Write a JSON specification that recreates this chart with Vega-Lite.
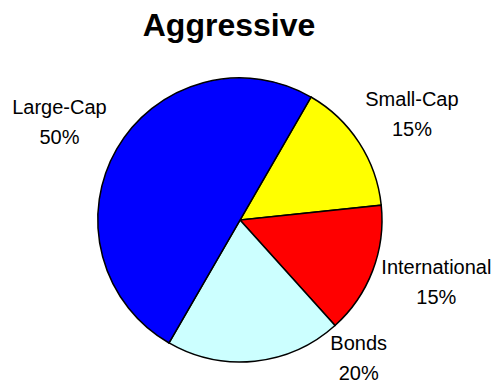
{
  "$schema": "https://vega.github.io/schema/vega-lite/v6.json",
  "width": 480,
  "height": 336,
  "autosize": "none",
  "padding": {"left": 0, "top": 52, "right": 18, "bottom": 0},
  "background": "white",
  "title": {"text": "Aggressive", "font": "Liberation Sans", "fontSize": 32, "fontWeight": "bold", "color": "black", "dx": -11, "offset": 9},
  "config": {"view": {"stroke": null}},
  "data": {"values": [
    {"asset": "Small-Cap", "share": 15, "k": 1, "label": "Small-Cap\n15%"},
    {"asset": "International", "share": 15, "k": 2, "label": "International\n15%"},
    {"asset": "Bonds", "share": 20, "k": 3, "label": "Bonds\n20%"},
    {"asset": "Large-Cap", "share": 50, "k": 4, "label": "Large-Cap\n50%"}
  ]},
  "encoding": {
    "theta": {"field": "share", "type": "quantitative", "stack": true, "scale": {"range": [0.5236, 6.8068]}},
    "order": {"field": "k", "type": "quantitative"}
  },
  "layer": [
    {
      "mark": {"type": "arc", "outerRadius": 142, "stroke": "black", "strokeWidth": 1.5},
      "encoding": {
        "color": {"field": "asset", "type": "nominal", "legend": null,
          "scale": {"domain": ["Small-Cap", "International", "Bonds", "Large-Cap"], "range": ["#FFFF00", "#FF0000", "#CCFFFF", "#0000FF"]}}
      }
    },
    {
      "mark": {"type": "text", "radius": 205, "dx": -3, "dy": -9, "font": "Liberation Sans", "fontSize": 20, "letterSpacing": 0.5, "lineBreak": "\n", "lineHeight": 30, "align": "center", "baseline": "middle", "color": "black"},
      "encoding": {
        "text": {"field": "label", "type": "nominal"},
        "opacity": {"condition": {"test": "datum.asset === 'Large-Cap'", "value": 1}, "value": 0}
      }
    },
    {
      "mark": {"type": "text", "radius": 205, "dx": 0, "dy": -8, "font": "Liberation Sans", "fontSize": 20, "letterSpacing": 0.5, "lineBreak": "\n", "lineHeight": 30, "align": "center", "baseline": "middle", "color": "black"},
      "encoding": {
        "text": {"field": "label", "type": "nominal"},
        "opacity": {"condition": {"test": "datum.asset === 'Small-Cap'", "value": 1}, "value": 0}
      }
    },
    {
      "mark": {"type": "text", "radius": 205, "dx": 5, "dy": -25, "font": "Liberation Sans", "fontSize": 20, "letterSpacing": 0.5, "lineBreak": "\n", "lineHeight": 30, "align": "center", "baseline": "middle", "color": "black"},
      "encoding": {
        "text": {"field": "label", "type": "nominal"},
        "opacity": {"condition": {"test": "datum.asset === 'International'", "value": 1}, "value": 0}
      }
    },
    {
      "mark": {"type": "text", "radius": 150, "dx": 103, "dy": -25, "font": "Liberation Sans", "fontSize": 20, "letterSpacing": 0.5, "lineBreak": "\n", "lineHeight": 30, "align": "center", "baseline": "middle", "color": "black"},
      "encoding": {
        "text": {"field": "label", "type": "nominal"},
        "opacity": {"condition": {"test": "datum.asset === 'Bonds'", "value": 1}, "value": 0}
      }
    }
  ]
}
